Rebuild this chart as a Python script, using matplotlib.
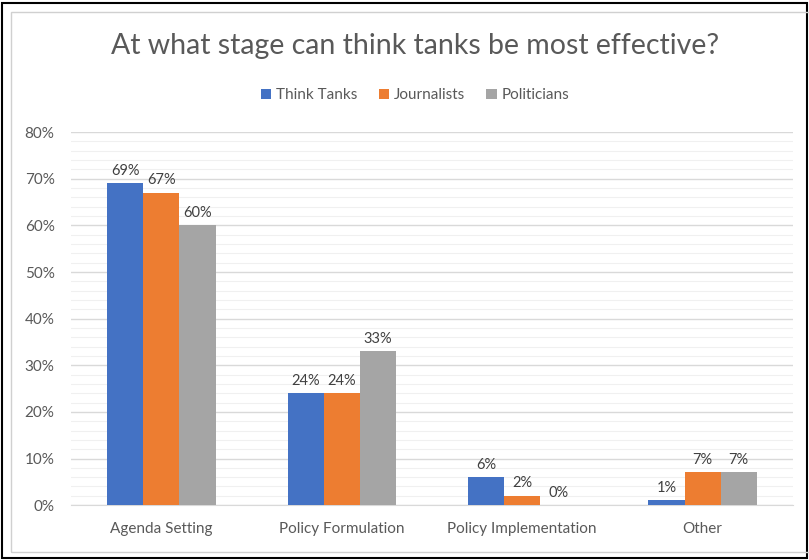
import matplotlib
matplotlib.use("Agg")
import matplotlib.pyplot as plt
from matplotlib.ticker import MultipleLocator, FuncFormatter
from matplotlib.patches import Rectangle
import numpy as np

categories = ["Agenda Setting", "Policy Formulation", "Policy Implementation", "Other"]
series_names = ["Think Tanks", "Journalists", "Politicians"]
think_tanks = [0.69, 0.24, 0.06, 0.01]
journalists = [0.67, 0.24, 0.02, 0.07]
politicians = [0.60, 0.33, 0.00, 0.07]
colors = ["#4472C4", "#ED7D31", "#A5A5A5"]

plt.rcParams['font.family'] = ['Lato', 'DejaVu Sans']
fig = plt.figure(figsize=(8.09, 5.60), dpi=100)
ax = fig.add_axes([0.088, 0.098, 0.892, 0.666])

x = np.arange(len(categories))
w = 0.2
for i, (vals, name, c) in enumerate(zip([think_tanks, journalists, politicians], series_names, colors)):
    pos = x + (i - 1) * w
    ax.bar(pos, vals, width=w, color=c, label=name, zorder=3)
    for p, v in zip(pos, vals):
        ax.text(p, v + 0.012, f"{round(v*100):d}%", ha="center", va="bottom",
                fontsize=10.5, color="#404040", zorder=4)

ax.set_xlim(-0.5, len(categories) - 0.5)
ax.set_ylim(0, 0.8)
ax.yaxis.set_major_locator(MultipleLocator(0.1))
ax.yaxis.set_minor_locator(MultipleLocator(0.02))
ax.yaxis.set_major_formatter(FuncFormatter(lambda v, p: f"{round(v*100):d}%"))
ax.grid(axis="y", which="major", color="#D9D9D9", linewidth=1.0, zorder=0)
ax.grid(axis="y", which="minor", color="#F0F0F0", linewidth=0.8, zorder=0)
ax.set_xticks(x)
ax.set_xticklabels(categories)
for s in ["top", "right", "left"]:
    ax.spines[s].set_visible(False)
ax.spines["bottom"].set_color("#D9D9D9")
ax.tick_params(axis="both", which="both", length=0, colors="#595959", labelsize=11)
ax.tick_params(axis="x", pad=12)
ax.tick_params(axis="y", pad=12)

fig.text(0.513, 0.918, "At what stage can think tanks be most effective?", ha="center", va="center",
         fontsize=20.5, color="#595959", fontweight="normal")
fig.legend(loc="center", bbox_to_anchor=(0.513, 0.830), ncol=3, frameon=False, fontsize=11,
           handlelength=0.7, handleheight=0.7, handletextpad=0.3, columnspacing=1.4,
           labelcolor="#595959")

fig.patches.append(Rectangle((0.003, 0.003), 0.994, 0.992, transform=fig.transFigure,
                             fill=False, edgecolor="black", linewidth=1.5))
fig.patches.append(Rectangle((0.013, 0.014), 1.1, 0.964, transform=fig.transFigure,
                             fill=False, edgecolor="#D0D0D0", linewidth=1.0))

fig.savefig("out.png", dpi=100)
